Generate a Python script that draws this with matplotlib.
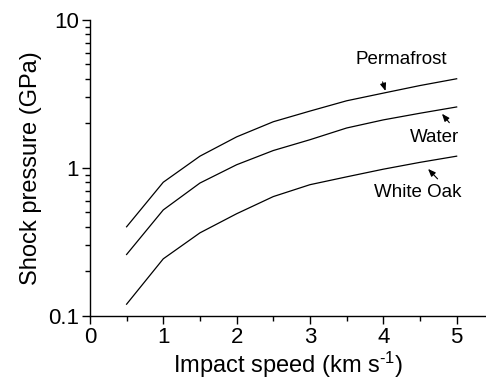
import matplotlib
matplotlib.use("Agg")
import matplotlib.pyplot as plt
from matplotlib.ticker import MultipleLocator, LogLocator, FixedLocator, FixedFormatter, NullFormatter

plt.rcParams["font.family"] = ["Liberation Sans", "DejaVu Sans"]

# ---------------------------------------------------------------------------
# Data
# ---------------------------------------------------------------------------
speed = [0.5, 1.0, 1.5, 2.0, 2.5, 3.0, 3.5, 4.0, 4.5, 5.0]
permafrost = [0.40, 0.80, 1.20, 1.62, 2.05, 2.42, 2.84, 3.20, 3.60, 4.00]
water = [0.26, 0.52, 0.79, 1.05, 1.31, 1.55, 1.86, 2.11, 2.34, 2.58]
white_oak = [0.12, 0.243, 0.364, 0.49, 0.64, 0.77, 0.87, 0.98, 1.09, 1.20]

y_ticks = [0.1, 1, 10]
y_tick_labels = ["0.1", "1", "10"]

fig = plt.figure(figsize=(4.86, 3.82), dpi=100)
ax = fig.add_axes([0.185, 0.173, 0.815, 0.775])

for series in (permafrost, water, white_oak):
    ax.plot(speed, series, color="black", lw=0.9)

ax.set_yscale("log")
ax.set_xlim(0, 5.4)
ax.set_ylim(0.1, 10)

ax.xaxis.set_major_locator(MultipleLocator(1))
ax.xaxis.set_minor_locator(MultipleLocator(0.5))
ax.yaxis.set_major_locator(FixedLocator(y_ticks))
ax.yaxis.set_major_formatter(FixedFormatter(y_tick_labels))
ax.yaxis.set_minor_locator(LogLocator(base=10, subs=range(2, 10)))
ax.yaxis.set_minor_formatter(NullFormatter())

for side in ("top", "right"):
    ax.spines[side].set_visible(False)
for side in ("left", "bottom"):
    ax.spines[side].set_linewidth(1.0)

ax.tick_params(which="major", direction="out", length=6, width=1.0, labelsize=16, pad=2)
ax.tick_params(which="minor", direction="out", length=3.5, width=1.0)

# plain hyphen in the exponent, like the original
ax.set_xlabel("Impact speed (km s$\\mathregular{^{\u2010 1}}$)", fontsize=17, labelpad=1)
ax.set_ylabel("Shock pressure (GPa)", fontsize=17, labelpad=4)

# labels with small arrows
arrow = dict(arrowstyle="-|>,head_length=0.45,head_width=0.18", color="black", lw=0.8,
             shrinkA=0, shrinkB=0)
ax.annotate("", xy=(4.03, 3.31), xytext=(3.99, 3.81), arrowprops=arrow)
ax.text(4.24, 5.37, "Permafrost", fontsize=13.5, ha="center", va="center")

ax.annotate("", xy=(4.80, 2.32), xytext=(4.90, 2.02), arrowprops=arrow)
ax.text(4.70, 1.60, "Water", fontsize=13.5, ha="center", va="center")

ax.annotate("", xy=(4.61, 0.984), xytext=(4.74, 0.843), arrowprops=arrow)
ax.text(4.47, 0.678, "White Oak", fontsize=13.5, ha="center", va="center")

fig.savefig("out.png", dpi=100)
